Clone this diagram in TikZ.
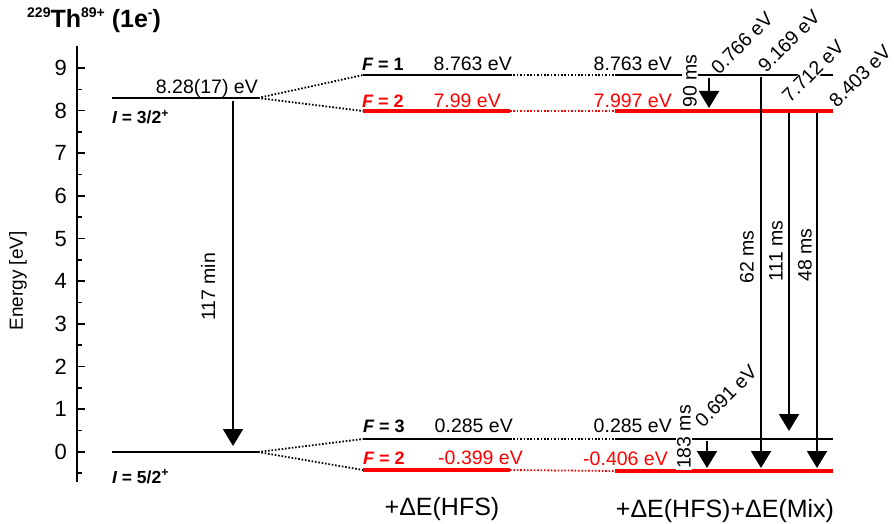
\documentclass[tikz,border=0pt]{standalone}
\usepackage{fontspec}
\setmainfont{Liberation Sans}
\usetikzlibrary{arrows.meta}
\definecolor{lvred}{RGB}{255,0,0}
\newcommand\mysup[1]{\raisebox{10pt}{\fontsize{14}{14}\selectfont #1}}
\begin{document}
\begin{tikzpicture}[x=1pt,y=-1pt,
  lev/.style={line width=2.5pt, black},
  levred/.style={line width=4pt, lvred},
  dots/.style={line width=1.8pt, dash pattern=on 1.6pt off 1.8pt},
  arr/.style={line width=2pt, -{Triangle[width=20pt,length=17pt]}},
  lbl/.style={font=\fontsize{19.5}{22}\selectfont, inner sep=0pt},
  bl/.style={font=\fontsize{18}{20}\selectfont\bfseries, inner sep=0pt},
  ticklbl/.style={font=\fontsize{22}{24}\selectfont, inner sep=0pt, anchor=east},
  bigl/.style={font=\fontsize{25}{28}\selectfont, inner sep=0pt, anchor=base}]
\useasboundingbox (0,0) rectangle (894,524);

% title
\node[anchor=base west, inner sep=0pt, font=\fontsize{25}{28}\selectfont\bfseries] (title) at (27,28) {\mysup{229}Th\mysup{89+} (1e\mysup{-})};

% axis
\coordinate (axtop) at (77,46);
\coordinate (axbot) at (77,482);
\draw[line width=2pt] (axtop) -- (axbot);
\foreach \e in {0,...,9} {
  \coordinate (tk\e) at (77,{451.7-42.63*\e});
  \draw[line width=1.6pt] (tk\e) -- ++(8,0);
  \node[ticklbl] (tl\e) at (67,{451.7-42.63*\e}) {\e};
}
\foreach \e/\n in {-0.5/m0,0.5/m1,1.5/m2,2.5/m3,3.5/m4,4.5/m5,5.5/m6,6.5/m7,7.5/m8,8.5/m9} {
  \coordinate (mt\n) at (77,{451.7-42.63*\e});
  \draw[line width=1.6pt] (mt\n) -- ++(5,0);
}
\node[font=\fontsize{19}{21}\selectfont, inner sep=0pt, rotate=90] (ylab) at (18,281) {Energy [eV]};

% coordinates of levels
\coordinate (La1) at (112,98);  \coordinate (Lb1) at (258,98);
\coordinate (La0) at (112,452); \coordinate (Lb0) at (258,452);
\coordinate (Ma1) at (363,75);  \coordinate (Mb1) at (510,75);
\coordinate (Ma2) at (363,111); \coordinate (Mb2) at (510,111);
\coordinate (Ma3) at (363,439); \coordinate (Mb3) at (510,439);
\coordinate (Ma4) at (363,470); \coordinate (Mb4) at (510,470);
\coordinate (Ra1) at (615,75);  \coordinate (Rb1) at (833,75);
\coordinate (Ra2) at (615,111); \coordinate (Rb2) at (833,111);
\coordinate (Ra3) at (615,439); \coordinate (Rb3) at (833,439);
\coordinate (Ra4) at (615,471); \coordinate (Rb4) at (833,471);

% dotted connectors
\draw[dots] (Lb1) -- (Ma1);
\draw[dots] (Lb1) -- (Ma2);
\draw[dots] (Lb0) -- (Ma3);
\draw[dots] (Lb0) -- (Ma4);
\draw[dots] (Mb1) -- (Ra1);
\draw[dots, lvred] (Mb2) -- (Ra2);
\draw[dots] (Mb3) -- (Ra3);
\draw[dots, lvred] (Mb4) -- (Ra4);

% levels
\draw[lev] (La1) -- (Lb1);
\draw[lev] (La0) -- (Lb0);
\draw[lev] (Ma1) -- (Mb1);
\draw[levred] (Ma2) -- (Mb2);
\draw[lev] (Ma3) -- (Mb3);
\draw[levred] (Ma4) -- (Mb4);
\draw[lev] (Ra1) -- (Rb1);
\draw[levred] (Ra2) -- (Rb2);
\draw[lev] (Ra3) -- (Rb3);
\draw[levred] (Ra4) -- (Rb4);

% level labels
\node[lbl, anchor=base east] (l828) at (258,94) {8.28(17) eV};
\node[bl, font=\fontsize{17.5}{19}\selectfont\bfseries, anchor=base west] (i32) at (112,124) {{\itshape I} = 3/2\textsuperscript{+}};
\node[bl, font=\fontsize{17.5}{19}\selectfont\bfseries, anchor=base west] (i52) at (112,483) {{\itshape I} = 5/2\textsuperscript{+}};

\node[bl, anchor=base west] (f1) at (362,71) {{\itshape F} = 1};
\node[lbl, anchor=base east] (m8763) at (512,71) {8.763 eV};
\node[bl, anchor=base west, text=lvred] (f2a) at (362,108) {{\itshape F} = 2};
\node[lbl, anchor=base east, text=lvred] (m799) at (501,108) {7.99 eV};
\node[bl, anchor=base west] (f3) at (363,432) {{\itshape F} = 3};
\node[lbl, anchor=base east] (m0285) at (513,432) {0.285 eV};
\node[bl, anchor=base west, text=lvred] (f2b) at (363,464) {{\itshape F} = 2};
\node[lbl, anchor=base east, text=lvred] (m0399) at (523,464) {-0.399 eV};

\node[lbl, anchor=base east] (r8763) at (672,71) {8.763 eV};
\node[lbl, anchor=base east, text=lvred] (r7997) at (672,108) {7.997 eV};
\node[lbl, anchor=base east] (r0285) at (672,432) {0.285 eV};
\node[lbl, anchor=base east, text=lvred] (r0406) at (668,465) {-0.406 eV};

% arrows
\coordinate (a117s) at (233,101); \coordinate (a117e) at (233,446);
\coordinate (a90s) at (709,78);   \coordinate (a90e) at (709,108);
\coordinate (a62s) at (761,77);   \coordinate (a62e) at (761,468);
\coordinate (a111s) at (789,113); \coordinate (a111e) at (789,431);
\coordinate (a48s) at (817,113);  \coordinate (a48e) at (817,468);
\coordinate (a183s) at (707,441); \coordinate (a183e) at (707,468);
\draw[arr] (a117s) -- (a117e);
\draw[arr] (a90s) -- (a90e);
\draw[arr] (a62s) -- (a62e);
\draw[arr] (a111s) -- (a111e);
\draw[arr] (a48s) -- (a48e);
\draw[arr] (a183s) -- (a183e);

% arrow labels
\node[lbl, rotate=90] (t117) at (208,287) {117 min};
\node[lbl, rotate=90, fill=white, inner sep=1pt] (t90) at (690,81) {90 ms};
\node[lbl, rotate=90] (t62) at (747,257) {62 ms};
\node[lbl, rotate=90] (t111) at (776,251) {111 ms};
\node[lbl, rotate=90] (t48) at (805,255) {48 ms};
\node[lbl, rotate=90, fill=white, inner sep=1pt] (t183) at (684,437) {183 ms};

% energy labels of transitions
\node[lbl, rotate=45] (e766) at (742,43) {0.766 eV};
\node[lbl, rotate=45] (e9169) at (789,41) {9.169 eV};
\node[lbl, rotate=45, fill=white, inner sep=1pt] (e7712) at (813,71) {7.712 eV};
\node[lbl, rotate=45] (e8403) at (860,76) {8.403 eV};
\node[lbl, rotate=45] (e691) at (726,396) {0.691 eV};

% bottom labels
\node[bigl] (hfs) at (442,515) {+ΔE(HFS)};
\node[bigl] (mix) at (725,517) {+ΔE(HFS)+ΔE(Mix)};
\end{tikzpicture}
\end{document}
